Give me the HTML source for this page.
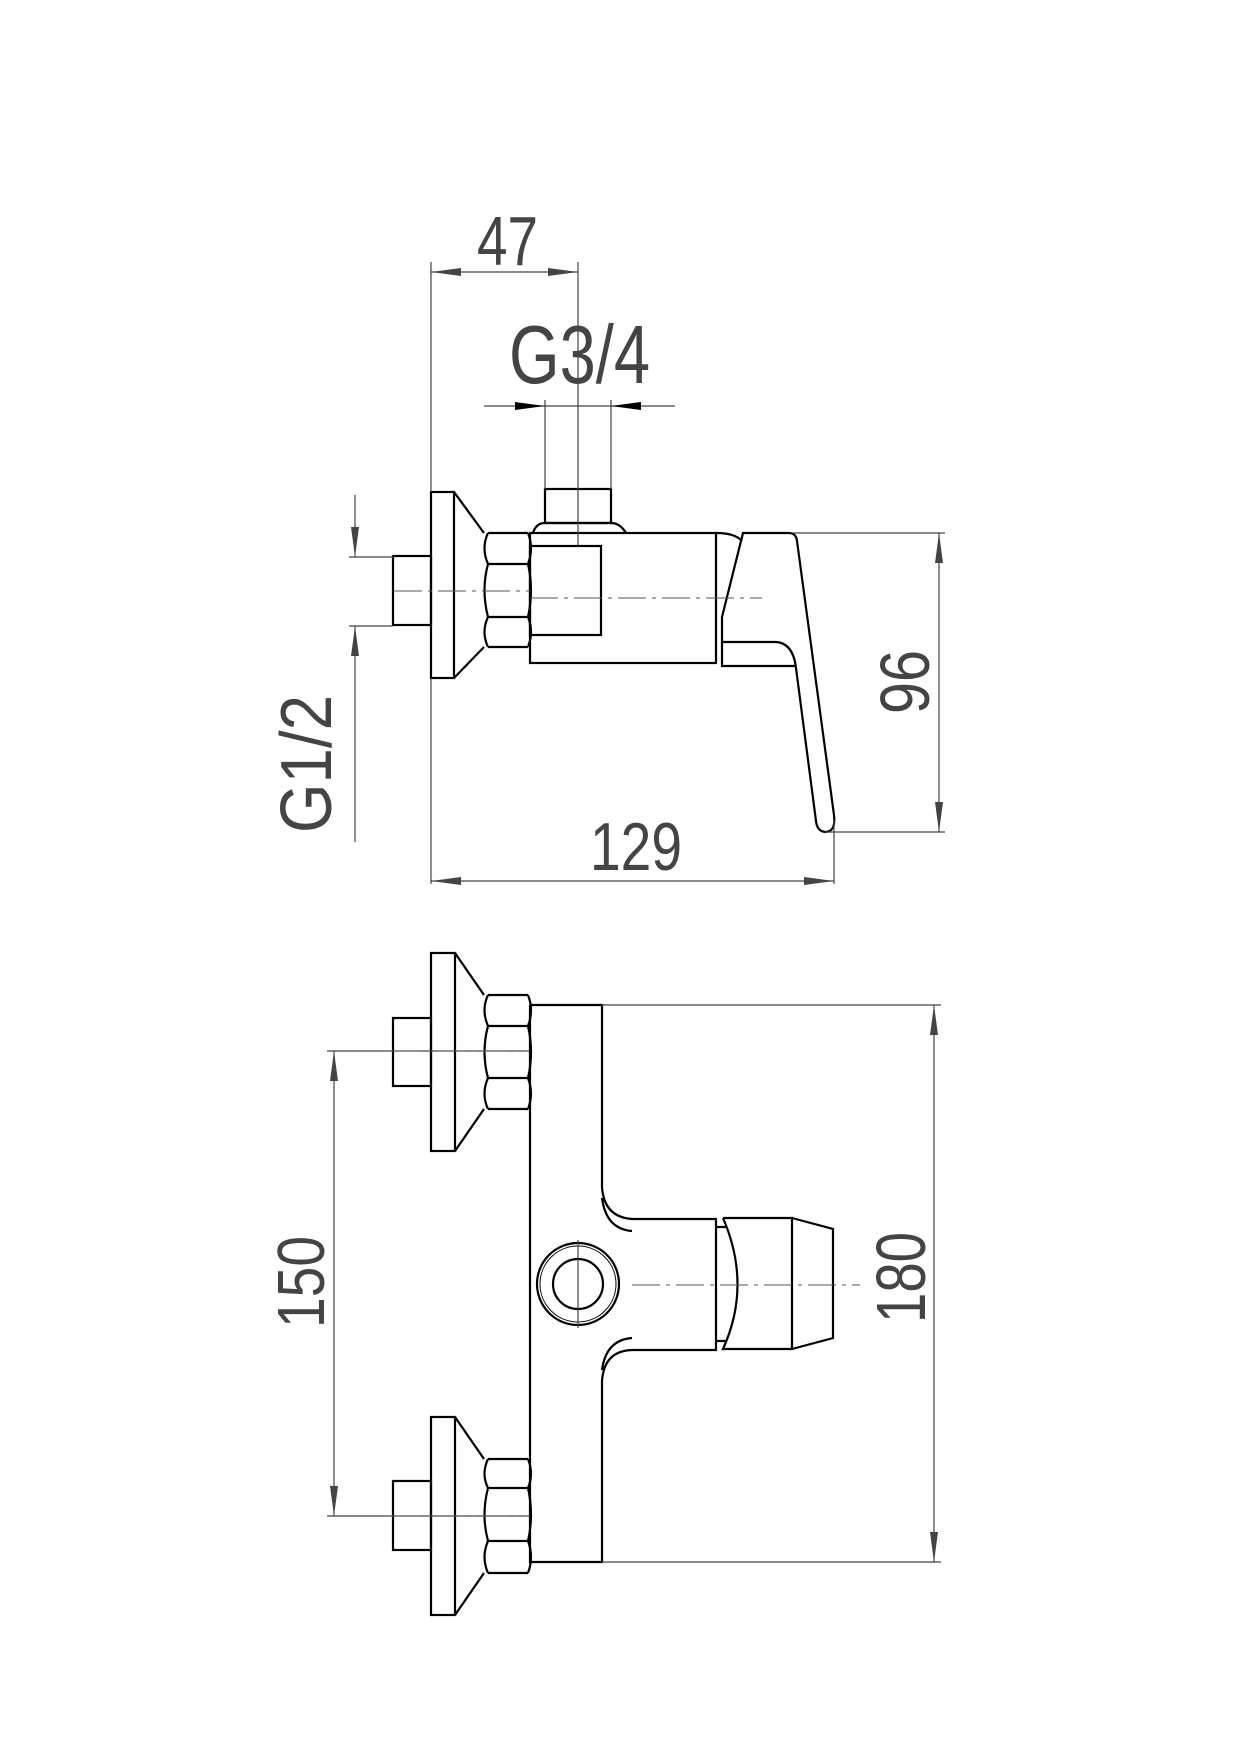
<!DOCTYPE html>
<html><head><meta charset="utf-8"><style>
html,body{margin:0;padding:0;background:#fff}
svg{display:block}
text{font-family:"Liberation Sans",sans-serif;fill:#444}
</style></head><body>
<svg width="1240" height="1755" viewBox="0 0 1240 1755" xmlns="http://www.w3.org/2000/svg">
<defs>
<marker id="a" viewBox="0 0 30 8" refX="30" refY="4" markerWidth="30" markerHeight="8" markerUnits="userSpaceOnUse" orient="auto"><path d="M0,0 L30,4 L0,8 Z" fill="#444"/></marker>
</defs>
<g fill="none" stroke="#000" stroke-width="2.2">
<!-- SIDE VIEW -->
<rect x="431" y="492" width="23" height="186"/>
<path d="M454,492 L484,533 M454,678 L484,647"/>
<path d="M488,533 L528,533 M488,564 L528,564 M488,617 L528,617 M488,647 L528,647"/>
<path d="M488,533 Q481,548 488,564 Q481,590 488,617 Q481,632 488,647 M528,533 Q534,548 528,564 Q534,590 528,617 Q534,632 528,647"/>
<rect x="530" y="533" width="186" height="130"/>
<rect x="530" y="546" width="71" height="89"/>
<rect x="393" y="556" width="38" height="69"/>
<rect x="545" y="489" width="66" height="34"/>
<path d="M533,533 Q536,523 545,523 L611,523 Q620,523 626,533"/>
<path d="M716,533 Q735,533 742,541"/>
<path d="M722,642 L722,617 L743,533 L789,533 Q796,533 797,541 L834,815 Q836,832 825,832 Q817,831 816,821 L796,668 Q793,643 776,642 L722,642 L722,666 L796,666"/>
<!-- FRONT VIEW -->
<rect x="431" y="953" width="24" height="198"/>
<path d="M455,953 L484,995 M455,1151 L484,1109"/>
<path d="M488,995 L528,995 M488,1026 L528,1026 M488,1078 L528,1078 M488,1109 L528,1109"/>
<path d="M488,995 Q481,1010 488,1026 Q481,1052 488,1078 Q481,1094 488,1109 M528,995 Q534,1010 528,1026 Q534,1052 528,1078 Q534,1094 528,1109"/>
<rect x="393" y="1018" width="38" height="68"/>
<rect x="431" y="1417" width="24" height="198"/>
<path d="M455,1417 L484,1459 M455,1615 L484,1573"/>
<path d="M488,1459 L528,1459 M488,1488 L528,1488 M488,1541 L528,1541 M488,1573 L528,1573"/>
<path d="M488,1459 Q481,1474 488,1488 Q481,1515 488,1541 Q481,1557 488,1573 M528,1459 Q534,1474 528,1488 Q534,1515 528,1541 Q534,1557 528,1573"/>
<rect x="393" y="1481" width="38" height="69"/>
<path d="M530,1005 L602,1005 L602,1187 M602,1381 L602,1562 L530,1562 L530,1005"/>
<path d="M602,1187 Q604,1217 632,1219 M602,1198 Q606,1229 632,1231 M602,1381 Q604,1351 632,1350 M602,1370 Q606,1340 632,1338"/>
<path d="M632,1219 L716,1219 L716,1350 L632,1350"/>
<path d="M716,1227 L727,1227 M716,1341 L727,1341"/>
<path d="M723,1218 L792,1218 L792,1349 L723,1349 Q752,1285 723,1218"/>
<path d="M792,1218 L833,1229 L833,1338 L792,1349"/>
<circle cx="578" cy="1284" r="41"/>
<circle cx="578" cy="1284" r="25"/>
</g>
<circle cx="578" cy="1284" r="38" fill="none" stroke="#000" stroke-width="1"/>
<!-- thin lines -->
<g fill="none" stroke="#444" stroke-width="1.2">
<path d="M431,262 L431,492 M431,678 L431,884 M578,262 L578,546 M545,400 L545,489 M611,400 L611,489"/>
<path d="M484,406 L675,406"/>
<path d="M500,272 L431,272" marker-end="url(#a)"/>
<path d="M500,272 L578,272" marker-end="url(#a)"/>
<path d="M349,557 L393,557 M349,626 L393,626"/>
<path d="M355,495 L355,557" marker-end="url(#a)"/>
<path d="M355,842 L355,626" marker-end="url(#a)"/>
<path d="M791,533 L945,533 M825,832 L945,832 M834,820 L834,884"/>
<path d="M939,682 L939,533" marker-end="url(#a)"/>
<path d="M939,682 L939,832" marker-end="url(#a)"/>
<path d="M630,881 L431,881" marker-end="url(#a)"/>
<path d="M630,881 L834,881" marker-end="url(#a)"/>
<path d="M327,1051 L530,1051 M327,1516 L530,1516"/>
<path d="M334,1280 L334,1051" marker-end="url(#a)"/>
<path d="M334,1280 L334,1516" marker-end="url(#a)"/>
<path d="M602,1005 L941,1005 M602,1562 L941,1562"/>
<path d="M934,1280 L934,1005" marker-end="url(#a)"/>
<path d="M934,1280 L934,1562" marker-end="url(#a)"/>
<path d="M578,1240 L578,1328"/>
</g>
<polygon points="515,402 545,406 515,410" fill="#000"/>
<polygon points="641,402 611,406 641,410" fill="#000"/>
<g fill="none" stroke="#555" stroke-width="1" stroke-dasharray="28,6,4,6">
<path d="M394,591 L530,591"/>
<path d="M530,598 L762,598"/>
<path d="M393,1051 L528,1051"/>
<path d="M393,1516 L528,1516"/>
<path d="M632,1285 L860,1285"/>
</g>
<g font-weight="normal">
<text x="477" y="265" font-size="70" textLength="61" lengthAdjust="spacingAndGlyphs">47</text>
<text x="509" y="383" font-size="83" textLength="141" lengthAdjust="spacingAndGlyphs">G3/4</text>
<text x="590" y="870" font-size="68" textLength="92" lengthAdjust="spacingAndGlyphs">129</text>
<text transform="translate(929,714) rotate(-90)" font-size="70" textLength="64" lengthAdjust="spacingAndGlyphs">96</text>
<text transform="translate(331,833) rotate(-90)" font-size="72" textLength="138" lengthAdjust="spacingAndGlyphs">G1/2</text>
<text transform="translate(324,1328) rotate(-90)" font-size="67" textLength="92" lengthAdjust="spacingAndGlyphs">150</text>
<text transform="translate(925,1323) rotate(-90)" font-size="70" textLength="91" lengthAdjust="spacingAndGlyphs">180</text>
</g>
</svg>
</body></html>
